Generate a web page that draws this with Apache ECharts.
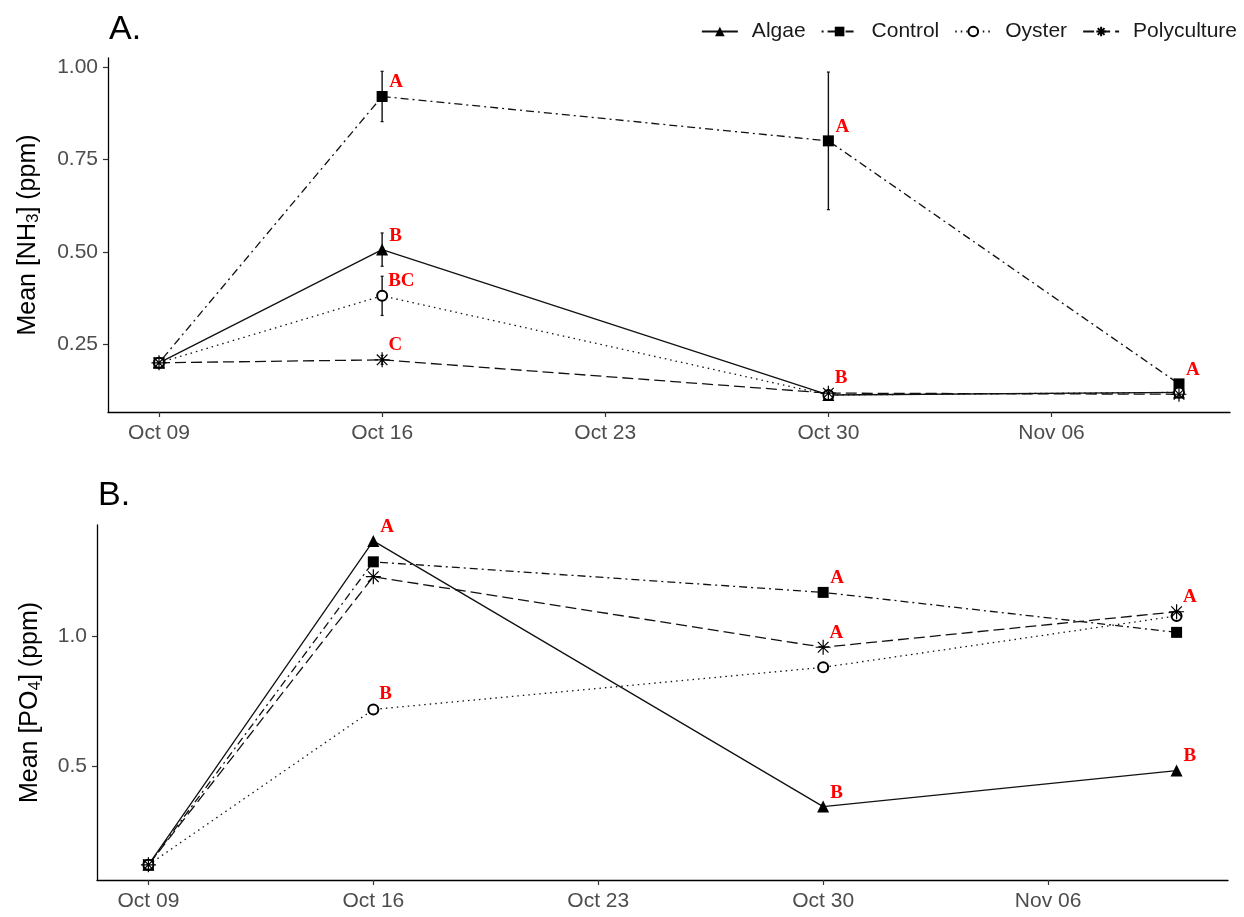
<!DOCTYPE html>
<html>
<head>
<meta charset="utf-8">
<title>Mean NH3 and PO4 by treatment</title>
<script src="https://cdn.jsdelivr.net/npm/echarts@6/dist/echarts.min.js"></script>
<style>
  html, body { margin: 0; padding: 0; background: #fff; }
  #chart { width: 1244px; height: 917px; }
</style>
</head>
<body>
<div id="chart"></div>
<script>
// Sampling dates and axis ticks
const sampleDates = ['2019-10-09', '2019-10-16', '2019-10-30', '2019-11-10'];
const tickDates = ['2019-10-09', '2019-10-16', '2019-10-23', '2019-10-30', '2019-11-06'];
const tickLabels = ['Oct 09', 'Oct 16', 'Oct 23', 'Oct 30', 'Nov 06'];
const treatments = ['Algae', 'Control', 'Oyster', 'Polyculture'];

// Panel A: mean NH3 (ppm) and standard errors
const algaeNH3 = [0.20, 0.506, 0.113, 0.120];
const controlNH3 = [0.20, 0.920, 0.800, 0.143];
const oysterNH3 = [0.20, 0.381, 0.113, 0.120];
const polyNH3 = [0.20, 0.208, 0.118, 0.115];
const algaeNH3se = [0.004, 0.045, 0.004, 0.004];
const controlNH3se = [0.005, 0.068, 0.186, 0.010];
const oysterNH3se = [0.004, 0.053, 0.004, 0.004];
const polyNH3se = [0.004, 0.012, 0.008, 0.006];
const nh3Ticks = [0.25, 0.50, 0.75, 1.00];

// Panel A: significance letters
const algaeNH3Letters = ['', 'B', '', ''];
const controlNH3Letters = ['', 'A', 'A', 'A'];
const oysterNH3Letters = ['', 'BC', '', ''];
const polyNH3Letters = ['', 'C', 'B', ''];

// Panel B: mean PO4 (ppm)
const algaePO4 = [0.124, 1.364, 0.347, 0.485];
const controlPO4 = [0.124, 1.284, 1.167, 1.014];
const oysterPO4 = [0.124, 0.719, 0.880, 1.077];
const polyPO4 = [0.124, 1.227, 0.957, 1.093];
const po4Ticks = [0.5, 1.0];

// Panel B: significance letters
const algaePO4Letters = ['', 'A', 'B', 'B'];
const controlPO4Letters = ['', '', 'A', ''];
const oysterPO4Letters = ['', 'B', '', ''];
const polyPO4Letters = ['', '', 'A', 'A'];

const ts = d => Date.parse(d + 'T00:00:00Z');
const xs = sampleDates.map(ts);
const xTicks = tickDates.map(ts);
const xPad = (xs[xs.length - 1] - xs[0]) * 0.05;
const xMin = xs[0] - xPad;
const xMax = xs[xs.length - 1] + xPad;

// ggplot-style asterisk (plus + cross)
const asterisk = 'path://M5,0L5,10M0,5L10,5M1.46,1.46L8.54,8.54M8.54,1.46L1.46,8.54';

const styles = {
  Algae: { symbol: 'triangle', symbolSize: 12, line: 'solid', border: 0 },
  Control: { symbol: 'rect', symbolSize: 11, line: [2, 4, 8, 4], border: 0 },
  Oyster: { symbol: 'emptyCircle', symbolSize: 10, line: [1.5, 4], border: 1.1 },
  Polyculture: { symbol: asterisk, symbolSize: 15, line: [11, 5], border: 1.2 }
};

const letterFont = {
  color: '#ff0000', fontFamily: 'Liberation Serif', fontWeight: 'bold', fontSize: 19
};

function lineSeries(name, values, letters, axisIndex) {
  const s = styles[name];
  const half = s.symbolSize / 2;
  return {
    type: 'line',
    name: name,
    xAxisIndex: axisIndex,
    yAxisIndex: axisIndex,
    data: values.map((v, i) => [xs[i], v]),
    symbol: s.symbol,
    symbolSize: s.symbolSize,
    showAllSymbol: true,
    z: 3,
    lineStyle: { color: '#111', width: 1.3, type: s.line },
    itemStyle: { color: '#000', borderColor: '#000', borderWidth: s.border },
    emphasis: { disabled: true },
    label: {
      show: true,
      // letter sits up and to the right of its point
      position: [half + 7, half - 14],
      align: 'left',
      verticalAlign: 'middle',
      formatter: p => letters[p.dataIndex],
      ...letterFont
    },
    labelLayout: { hideOverlap: false }
  };
}

function errorSeries(values, errs, axisIndex) {
  return {
    type: 'custom',
    xAxisIndex: axisIndex,
    yAxisIndex: axisIndex,
    z: 2,
    silent: true,
    encode: { x: 0, y: [1, 2] },
    data: values.map((v, i) => [xs[i], v - errs[i], v + errs[i]]),
    renderItem: (params, api) => {
      const lo = api.coord([api.value(0), api.value(1)]);
      const hi = api.coord([api.value(0), api.value(2)]);
      return {
        type: 'group',
        children: [
          { type: 'line', shape: { x1: lo[0], y1: lo[1], x2: hi[0], y2: hi[1] },
            style: { stroke: '#111', lineWidth: 1.4 } },
          { type: 'line', shape: { x1: lo[0] - 1.5, y1: lo[1], x2: lo[0] + 1.5, y2: lo[1] },
            style: { stroke: '#111', lineWidth: 1.2 } },
          { type: 'line', shape: { x1: hi[0] - 1.5, y1: hi[1], x2: hi[0] + 1.5, y2: hi[1] },
            style: { stroke: '#111', lineWidth: 1.2 } }
        ]
      };
    }
  };
}

const tickText = { color: '#4d4d4d', fontSize: 21, fontFamily: 'Liberation Sans' };
const axisLineStyle = { lineStyle: { color: '#000', width: 1.3 } };
const axisTickStyle = { show: true, length: 5, lineStyle: { color: '#333', width: 1.2 } };

function xAxis(gridIndex) {
  return {
    type: 'value',
    gridIndex: gridIndex,
    min: xMin,
    max: xMax,
    splitLine: { show: false },
    axisLine: axisLineStyle,
    axisTick: { ...axisTickStyle, customValues: xTicks },
    axisLabel: {
      ...tickText,
      margin: 11,
      customValues: xTicks,
      formatter: v => {
        const i = xTicks.indexOf(v);
        return i >= 0 ? tickLabels[i] : '';
      }
    }
  };
}

function yAxis(gridIndex, min, max, ticks, digits, nameRich, gap) {
  return {
    type: 'value',
    gridIndex: gridIndex,
    min: min,
    max: max,
    splitLine: { show: false },
    axisLine: { show: true, ...axisLineStyle },
    axisTick: { ...axisTickStyle, customValues: ticks },
    axisLabel: {
      ...tickText,
      margin: 10,
      customValues: ticks,
      formatter: v => v.toFixed(digits)
    },
    name: nameRich,
    nameLocation: 'middle',
    nameGap: gap,
    nameRotate: 90,
    nameTextStyle: {
      color: '#000',
      fontSize: 25,
      fontFamily: 'Liberation Sans',
      rich: {
        sub: { fontSize: 17, fontFamily: 'Liberation Sans', color: '#000', padding: [10, 0, 0, 0] }
      }
    }
  };
}

const chart = echarts.init(document.getElementById('chart'), null, { renderer: 'canvas' });

const tagStyle = { fontSize: 34, fontWeight: 'normal', color: '#000', fontFamily: 'Liberation Sans' };

chart.setOption({
  animation: false,
  backgroundColor: '#fff',
  title: [
    { text: 'A.', left: 104, top: 8, textStyle: tagStyle },
    { text: 'B.', left: 93, top: 474, textStyle: tagStyle }
  ],
  legend: {
    data: treatments,
    right: 2,
    top: 16,
    itemWidth: 36,
    itemHeight: 12,
    itemGap: 15,
    textStyle: { fontSize: 21, color: '#1a1a1a', fontFamily: 'Liberation Sans', padding: [0, 0, 0, 9] },
    selectedMode: false
  },
  grid: [
    { left: 108, right: 14, top: 58, height: 354 },
    { left: 97, right: 16, top: 525, height: 355 }
  ],
  xAxis: [xAxis(0), xAxis(1)],
  yAxis: [
    yAxis(0, 0.067, 1.024, nh3Ticks, 2, 'Mean [NH{sub|3}] (ppm)', 66),
    yAxis(1, 0.066, 1.425, po4Ticks, 1, 'Mean [PO{sub|4}] (ppm)', 53)
  ],
  series: [
    errorSeries(algaeNH3, algaeNH3se, 0),
    errorSeries(controlNH3, controlNH3se, 0),
    errorSeries(oysterNH3, oysterNH3se, 0),
    errorSeries(polyNH3, polyNH3se, 0),
    lineSeries('Algae', algaeNH3, algaeNH3Letters, 0),
    lineSeries('Control', controlNH3, controlNH3Letters, 0),
    lineSeries('Oyster', oysterNH3, oysterNH3Letters, 0),
    lineSeries('Polyculture', polyNH3, polyNH3Letters, 0),
    lineSeries('Algae', algaePO4, algaePO4Letters, 1),
    lineSeries('Control', controlPO4, controlPO4Letters, 1),
    lineSeries('Oyster', oysterPO4, oysterPO4Letters, 1),
    lineSeries('Polyculture', polyPO4, polyPO4Letters, 1)
  ]
});
</script>
</body>
</html>
